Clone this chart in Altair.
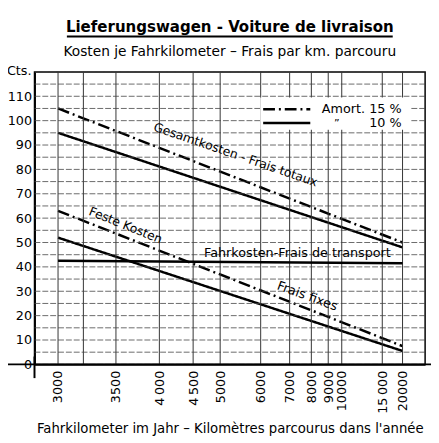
import altair as alt
import pandas as pd

# ---------------- data ----------------
title_text = "Lieferungswagen - Voiture de livraison"
subtitle_text = "Kosten je Fahrkilometer  \u2013  Frais par km. parcouru"
x_title = "Fahrkilometer im Jahr \u2013 Kilom\u00e8tres parcourus dans l'ann\u00e9e"
y_title = "Cts."

km_ticks = [3000, 3200, 3500, 4000, 4500, 5000, 6000, 7000, 8000, 9000, 10000, 15000, 20000]
km_labels = ["3000", "", "3500", "4\u2009000", "4\u2009500", "5000", "6000", "7000",
             "8000", "9000", "10000", "15\u2009000", "20000"]
y_grid = list(range(0, 125, 5))
y_labels = list(range(0, 120, 10))

series = ["Gesamtkosten", "Gesamtkosten", "Feste Kosten", "Feste Kosten"]
amort = ["15 %", "10 %", "15 %", "10 %"]
km_start = [3000, 3000, 3000, 3000]
km_end = [20000, 20000, 20000, 20000]
cts_start = [105, 95, 63, 52]
cts_end = [50, 48, 7.5, 5.5]

fahr_km = [3000, 20000]
fahr_cts = [42.5, 41.5]

ann_text = ["Gesamtkosten - Frais totaux", "Feste Kosten", "Frais fixes",
            "Fahrkosten-Frais de transport"]
ann_km = [5340, 3600, 7790, 7330]
ann_cts = [86, 57, 28, 45.5]
ann_angle = [19, 22, 20, 0]
ann_size = [12.5, 12.5, 13, 13]

legend_labels = ["Amort. 15 %", "10 %"]

# ---------------- tables ----------------
rows = []
for s, a, k0, k1, c0, c1 in zip(series, amort, km_start, km_end, cts_start, cts_end):
    rows.append({"series": s + " " + a, "amort": a, "km": k0, "cts": c0})
    rows.append({"series": s + " " + a, "amort": a, "km": k1, "cts": c1})
lines_df = pd.DataFrame(rows)
fahr_df = pd.DataFrame({"km": fahr_km, "cts": fahr_cts})
ann_df = pd.DataFrame({"text": ann_text, "km": ann_km, "cts": ann_cts,
                       "angle": ann_angle, "size": ann_size})
xgrid_df = pd.DataFrame({"km": km_ticks})
ygrid_df = pd.DataFrame({"cts": y_grid})
one = pd.DataFrame({"a": [0]})

FONT = "DejaVu Sans"
TITLE_FONT = "Liberation Sans Narrow, DejaVu Sans Condensed, Liberation Sans, sans-serif"

u_ticks = [10000.0 / k for k in km_ticks]
label_expr = ""
for k, lab in zip(km_ticks, km_labels):
    label_expr += f"round(10000/datum.value) == {k} ? '{lab}' : "
label_expr += "''"

x_scale = alt.Scale(domain=[0.3143, 3.527], reverse=True, nice=False, zero=False)
y_scale = alt.Scale(domain=[0, 120], nice=False)

x_axis = alt.Axis(values=u_ticks, labelExpr=label_expr, labelAngle=-90,
                  title=x_title, labelOverlap=False)
y_axis = alt.Axis(values=y_labels, labelExpr="'' + datum.value", title="",
                  labelOverlap=False)


def X():
    return alt.X("u:Q", scale=x_scale, axis=x_axis)


def Y():
    return alt.Y("cts:Q", scale=y_scale, axis=y_axis)


calc = {"u": "10000 / datum.km"}

lines = alt.Chart(lines_df).transform_calculate(**calc).mark_line(
    color="black", strokeWidth=2.5
).encode(
    x=X(), y=Y(), detail="series:N",
    strokeDash=alt.StrokeDash(
        "amort:N", legend=None,
        scale=alt.Scale(domain=["15 %", "10 %"], range=[[12, 4, 2, 4], [1, 0]]),
    ),
)

xgrid = alt.Chart(xgrid_df).transform_calculate(**calc).mark_rule(
    color="#333", strokeWidth=1
).encode(x=X())

ygrid = alt.Chart(ygrid_df).mark_rule(
    color="#444", strokeWidth=0.8, strokeDash=[6, 2]
).encode(y=Y())

fahr = alt.Chart(fahr_df).transform_calculate(**calc).mark_line(
    color="black", strokeWidth=2.5
).encode(x=X(), y=Y())

ann = alt.Chart(ann_df).transform_calculate(**calc).mark_text(
    font=FONT, color="black", baseline="middle", align="center"
).encode(x=X(), y=Y(), text="text:N",
         angle=alt.Angle("angle:Q", scale=None),
         size=alt.Size("size:Q", scale=None, legend=None))

# y unit label
cts_label = alt.Chart(one).mark_text(font=FONT, fontSize=13, align="right",
                                     baseline="middle", color="black").encode(
    x=alt.value(-3), y=alt.value(-1), text=alt.value(y_title))

# legend (inside, top right)
leg_bg = alt.Chart(one).mark_rect(color="white").encode(
    x=alt.value(230), x2=alt.value(383), y=alt.value(26), y2=alt.value(59))
leg_r1 = alt.Chart(one).mark_rule(color="black", strokeWidth=2.5, strokeDash=[12, 4, 2, 4]).encode(
    x=alt.value(233), x2=alt.value(281), y=alt.value(38))
leg_r2 = alt.Chart(one).mark_rule(color="black", strokeWidth=2.5).encode(
    x=alt.value(233), x2=alt.value(281), y=alt.value(52))
leg_t1 = alt.Chart(one).mark_text(font=FONT, fontSize=13, align="right", baseline="middle",
                                  color="black").encode(
    x=alt.value(374), y=alt.value(38), text=alt.value(legend_labels[0]))
leg_t2 = alt.Chart(one).mark_text(font=FONT, fontSize=13, align="right", baseline="middle",
                                  color="black").encode(
    x=alt.value(374), y=alt.value(52), text=alt.value(legend_labels[1]))
leg_t3 = alt.Chart(one).mark_text(font=FONT, fontSize=11, align="center", baseline="middle",
                                  color="black").encode(
    x=alt.value(308), y=alt.value(53), text=alt.value("\u201d"))

underline = alt.Chart(one).mark_rule(color="black", strokeWidth=2).encode(
    x=alt.value(33), x2=alt.value(365), y=alt.value(-36))
xaxis_ext = alt.Chart(one).mark_rule(color="black", strokeWidth=2).encode(
    x=alt.value(-35), x2=alt.value(404), y=alt.value(298))
yaxis_ext = alt.Chart(one).mark_rule(color="black", strokeWidth=2).encode(
    x=alt.value(0), y=alt.value(290), y2=alt.value(312))

chart = alt.layer(
    lines, xgrid, ygrid, leg_bg, fahr, ann, cts_label, leg_r1, leg_r2, leg_t1,
    leg_t2, leg_t3, underline, xaxis_ext, yaxis_ext,
).properties(
    width=398, height=298,
    title=alt.TitleParams(
        text=title_text, subtitle=subtitle_text, font=TITLE_FONT, fontSize=17,
        fontWeight="bold", color="black", subtitleFont=FONT, subtitleFontSize=14,
        subtitleColor="black", subtitlePadding=10, anchor="middle", offset=-25,
        frame="group",
    ),
    autosize=alt.AutoSizeParams(type="none"),
    padding={"left": 27, "top": 61, "right": 6, "bottom": 76},
).configure_view(
    stroke="black", strokeWidth=1.5
).configure_axis(
    labelOverlap=False, labelFlush=False, labelBound=False, ticks=False,
    grid=False, domainColor="black", domainWidth=2, labelFont=FONT,
    labelFontSize=13, labelColor="black", titleFont=FONT,
    titleFontWeight="normal", titleColor="black",
).configure_axisX(
    labelPadding=6, titleFontSize=13.5, titleY=65, titleBaseline="middle",
).configure_axisY(
    labelPadding=3,
)

chart.save("out.html", embed_options={"renderer": "svg", "actions": False})
